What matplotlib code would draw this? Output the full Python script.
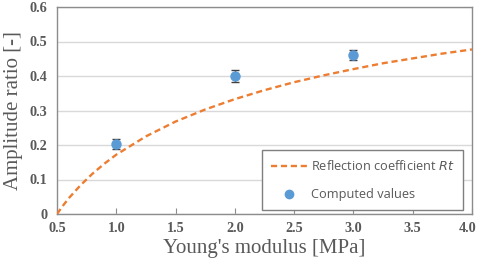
import matplotlib
matplotlib.use("Agg")
import matplotlib.pyplot as plt
import matplotlib.transforms as mtransforms
from matplotlib.lines import Line2D

# Reflection coefficient curve
curve_x = [0.5, 0.55, 0.6, 0.7, 0.8, 0.9, 1.0, 1.25, 1.5, 1.75, 2.0, 2.25, 2.5, 2.75, 3.0, 3.25, 3.5, 3.75, 4.0]
curve_y = [0.0, 0.024, 0.046, 0.084, 0.117, 0.146, 0.172, 0.225, 0.268, 0.303, 0.333, 0.359, 0.382, 0.402, 0.420, 0.437, 0.451, 0.465, 0.477]

# Computed values
comp_x = [1.0, 2.0, 3.0]
comp_y = [0.203, 0.400, 0.460]
comp_err = [0.015, 0.018, 0.015]

xticks = [0.5, 1.0, 1.5, 2.0, 2.5, 3.0, 3.5, 4.0]
yticks = [0, 0.1, 0.2, 0.3, 0.4, 0.5, 0.6]
ytick_labels = ["0", "0.1", "0.2", "0.3", "0.4", "0.5", "0.6"]

gray_txt = "#595959"

fig = plt.figure(figsize=(4.8, 2.72), dpi=100)
ax = fig.add_axes([57/480, 1 - 214/272, (472-57)/480, (214-7)/272])

ax.set_xlim(0.5, 4.0)
ax.set_ylim(0, 0.6)
ax.set_xticks(xticks)
ax.set_xticklabels([f"{v:.1f}" for v in xticks])
ax.set_yticks(yticks)
ax.set_yticklabels(ytick_labels)
ax.grid(axis="y", color="#d9d9d9", lw=1.0)
ax.set_axisbelow(True)

for s in ax.spines.values():
    s.set_color("#8c8c8c")
    s.set_linewidth(1.0)

ax.tick_params(axis="x", direction="in", length=4, color="#8c8c8c", pad=6)
ax.tick_params(axis="y", length=0, pad=7)
for lab in ax.get_xticklabels() + ax.get_yticklabels():
    lab.set_fontfamily("Liberation Serif")
    lab.set_fontweight("bold")
    lab.set_fontsize(10.3)
    lab.set_color(gray_txt)

# nudge the last x tick label left so it stays inside the figure
last = ax.get_xticklabels()[-1]
last.set_transform(last.get_transform() + mtransforms.ScaledTranslation(-4/100, 0, fig.dpi_scale_trans))

line, = ax.plot(curve_x, curve_y, color="#ED7D31", lw=1.7, dashes=(2.6, 1.6), zorder=3)
ax.errorbar(comp_x, comp_y, yerr=comp_err, fmt="o", color="#5B9BD5", ms=6.5,
            ecolor="#404040", elinewidth=1.0, capsize=3, capthick=1.0, zorder=4)

ax.set_xlabel("Young's modulus [MPa]", fontfamily="Liberation Serif", fontsize=15,
              color=gray_txt, labelpad=3)
ax.set_ylabel("Amplitude ratio [-]", fontfamily="Liberation Serif", fontsize=15,
              color=gray_txt, labelpad=5)

h2 = Line2D([], [], marker="o", ls="none", color="#5B9BD5", ms=6)
leg = ax.legend([line, h2], ["Reflection coefficient $\\mathit{Rt}$", "Computed values"],
                loc="lower right", bbox_to_anchor=(463/480, 1 - 210/272), bbox_transform=fig.transFigure,
                frameon=True, fancybox=False, edgecolor="#7f7f7f", framealpha=1,
                prop={"family": "Open Sans", "size": 9.2}, handlelength=2.8, handletextpad=0.3,
                labelspacing=1.15, borderpad=0.7, borderaxespad=0)
leg.get_frame().set_linewidth(1.0)
for t in leg.get_texts():
    t.set_color(gray_txt)

fig.savefig("out.png", dpi=100)
